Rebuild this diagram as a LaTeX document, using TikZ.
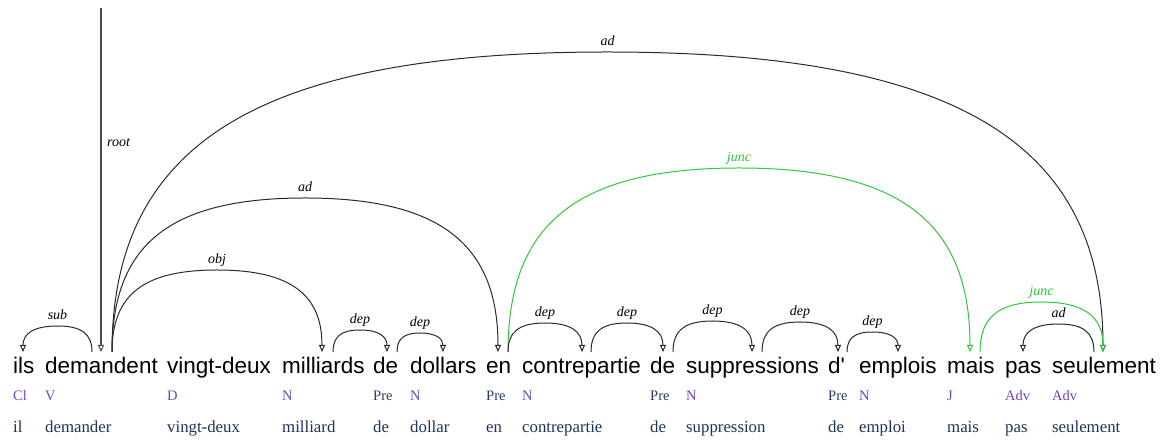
\documentclass[tikz,border=0pt]{standalone}
\usepackage{fontspec}
\setmainfont{Liberation Serif}
\newfontfamily\wordfont{Liberation Sans}[Ligatures=TeXOff]
\usetikzlibrary{arrows.meta,calc}
\definecolor{arcgray}{HTML}{2A2A2A}
\definecolor{juncgreen}{HTML}{2FC83A}
\definecolor{tagpurple}{HTML}{7444B8}
\definecolor{tagblue}{HTML}{2B3C6B}
\definecolor{lemblue}{HTML}{1F3358}
\tikzset{
  word/.style={anchor=base west,inner sep=0pt,font=\wordfont\fontsize{22.5}{27}\selectfont},
  tagp/.style={anchor=base west,inner sep=0pt,text=tagpurple,font=\fontsize{14.5}{17}\selectfont},
  tagb/.style={anchor=base west,inner sep=0pt,text=tagblue,font=\fontsize{14.5}{17}\selectfont},
  lem/.style={anchor=base west,inner sep=0pt,text=lemblue,font=\fontsize{16.8}{20}\selectfont},
  lab/.style={anchor=base,inner sep=0pt,yshift=6.5pt,font=\itshape\fontsize{14}{16}\selectfont},
  deprel/.style={draw=arcgray,line width=1pt,-{Triangle[open,length=7pt,width=6pt,line width=1pt]}},
  juncrel/.style={draw=juncgreen,line width=1pt,text=juncgreen,-{Triangle[open,length=7pt,width=6pt,line width=1pt]}},
}
\newcommand\deparc[5]{%
  \draw[#1] let \p1=(#2), \p2=(#3), \n1={(\x2-\x1)/2}, \n2={#4} in
    (#2) .. controls (\x1,\y1+0.7*\n2) and (\x1+0.3*\n1,\y1+\n2) ..
    (\x1+\n1,\y1+\n2) node[lab] {#5}
    .. controls (\x1+1.7*\n1,\y1+\n2) and (\x2,\y2+0.7*\n2) .. (#3);}
\begin{document}
\begin{tikzpicture}[x=1pt,y=1pt]
\useasboundingbox (0,0) rectangle (1163,441);
% words
\node[word] (w1) at (13,67) {ils};
\node[word] (w2) at (45,67) {demandent};
\node[word] (w3) at (167,67) {vingt-deux};
\node[word] (w4) at (282,67) {milliards};
\node[word] (w5) at (373,67) {de};
\node[word] (w6) at (410,67) {dollars};
\node[word] (w7) at (486,67) {en};
\node[word] (w8) at (522,67) {contrepartie};
\node[word] (w9) at (650,67) {de};
\node[word] (w10) at (686,67) {suppressions};
\node[word] (w11) at (828,67) {d'};
\node[word] (w12) at (859,67) {emplois};
\node[word] (w13) at (947,67) {mais};
\node[word] (w14) at (1005,67) {pas};
\node[word] (w15) at (1052,67) {seulement};
% tags
\node[tagp] (t1) at (13,40) {Cl};
\node[tagp] (t2) at (45,40) {V};
\node[tagp] (t3) at (167,40) {D};
\node[tagp] (t4) at (282,40) {N};
\node[tagb] (t5) at (373,40) {Pre};
\node[tagp] (t6) at (410,40) {N};
\node[tagb] (t7) at (486,40) {Pre};
\node[tagp] (t8) at (522,40) {N};
\node[tagb] (t9) at (650,40) {Pre};
\node[tagp] (t10) at (686,40) {N};
\node[tagb] (t11) at (828,40) {Pre};
\node[tagp] (t12) at (859,40) {N};
\node[tagp] (t13) at (947,40) {J};
\node[tagp] (t14) at (1005,40) {Adv};
\node[tagp] (t15) at (1052,40) {Adv};
% lemmas
\node[lem] (l1) at (13,8) {il};
\node[lem] (l2) at (45,8) {demander};
\node[lem] (l3) at (167,8) {vingt-deux};
\node[lem] (l4) at (282,8) {milliard};
\node[lem] (l5) at (373,8) {de};
\node[lem] (l6) at (410,8) {dollar};
\node[lem] (l7) at (486,8) {en};
\node[lem] (l8) at (522,8) {contrepartie};
\node[lem] (l9) at (650,8) {de};
\node[lem] (l10) at (686,8) {suppression};
\node[lem] (l11) at (828,8) {de};
\node[lem] (l12) at (859,8) {emploi};
\node[lem] (l13) at (947,8) {mais};
\node[lem] (l14) at (1005,8) {pas};
\node[lem] (l15) at (1052,8) {seulement};
% arc end points
\coordinate (ils-in) at (23,89);
\coordinate (dem-sub) at (92,89);
\coordinate (dem-root) at (101,89);
\coordinate (root-top) at (101,433);
\coordinate (dem-out) at (112,89);
\coordinate (mil-in) at (322,89);
\coordinate (mil-out) at (333,89);
\coordinate (de1-in) at (387,89);
\coordinate (de1-out) at (397,89);
\coordinate (dol-in) at (443,89);
\coordinate (en-in) at (498,89);
\coordinate (en-out) at (508,89);
\coordinate (con-in) at (582,89);
\coordinate (con-out) at (591,89);
\coordinate (de2-in) at (663,89);
\coordinate (de2-out) at (673,89);
\coordinate (sup-in) at (752,89);
\coordinate (sup-out) at (762,89);
\coordinate (d-in) at (838,89);
\coordinate (d-out) at (847,89);
\coordinate (emp-in) at (898,89);
\coordinate (mais-in) at (970,89);
\coordinate (mais-out) at (980,89);
\coordinate (pas-in) at (1023,89);
\coordinate (seul-out) at (1094,89);
\coordinate (seul-in) at (1103,89);
% root
\draw[deprel,draw=black!70,line width=1.4pt] (root-top) -- (dem-root);
\node[anchor=base west,inner sep=0pt,font=\itshape\fontsize{14}{16}\selectfont] (rootlab) at (107,294) {root};
% arcs
\deparc{deprel}{dem-sub}{ils-in}{26}{sub}
\deparc{deprel}{dem-out}{mil-in}{82}{obj}
\deparc{deprel}{dem-out}{en-in}{154}{ad}
\deparc{deprel}{dem-out}{seul-in}{300}{ad}
\deparc{juncrel}{en-out}{mais-in}{184}{junc}
\deparc{juncrel}{mais-out}{seul-in}{50}{junc}
\deparc{deprel}{seul-out}{pas-in}{28}{ad}
\deparc{deprel}{mil-out}{de1-in}{22}{dep}
\deparc{deprel}{de1-out}{dol-in}{19}{dep}
\deparc{deprel}{en-out}{con-in}{29}{dep}
\deparc{deprel}{con-out}{de2-in}{29}{dep}
\deparc{deprel}{de2-out}{sup-in}{31}{dep}
\deparc{deprel}{sup-out}{d-in}{30}{dep}
\deparc{deprel}{d-out}{emp-in}{20}{dep}
\end{tikzpicture}
\end{document}
